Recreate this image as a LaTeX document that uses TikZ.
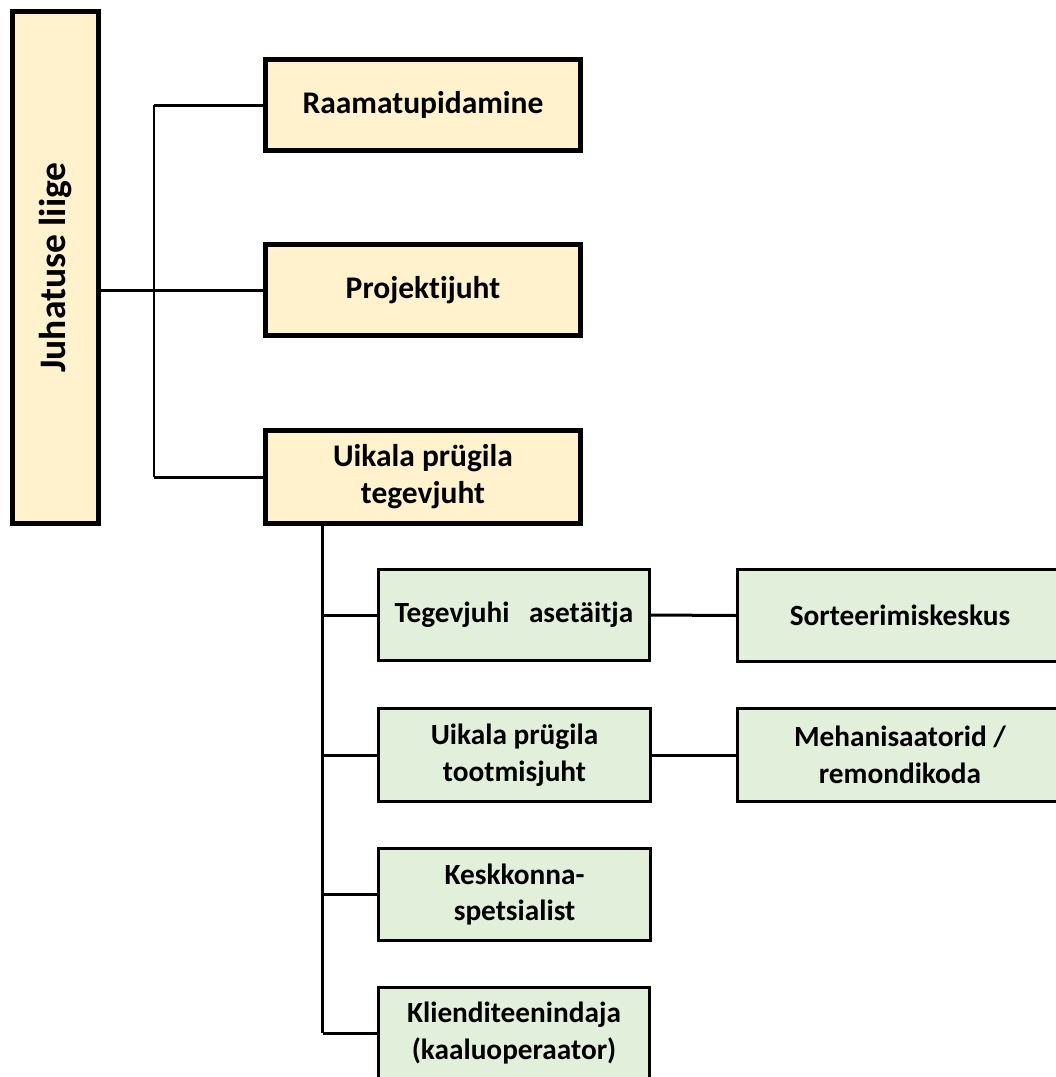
\documentclass[tikz,border=0pt]{standalone}
\usepackage{fontspec}
\setmainfont{Carlito}[Ligatures={NoCommon}]
\definecolor{boxyellow}{HTML}{FFF2CC}
\definecolor{boxgreen}{HTML}{E2EFDA}
\tikzset{
  topbox/.style={draw=black, line width=5bp, fill=boxyellow, rectangle,
    inner sep=0pt, align=center,
    font=\fontsize{31.5bp}{37bp}\selectfont\bfseries},
  greenbox/.style={draw=black, line width=3bp, fill=boxgreen, rectangle,
    inner sep=0pt, align=center,
    font=\fontsize{29.3bp}{36.7bp}\selectfont\bfseries},
  conn/.style={draw=black, line width=3bp},
  trunk/.style={draw=black, line width=2.5bp},
}
\begin{document}
\begin{tikzpicture}[x=1bp, y=-1bp]
\useasboundingbox (0,0) rectangle (1056,1077);
\clip (0,0) rectangle (1056,1077);
% top level
\node[draw=black, line width=5bp, fill=boxyellow, rectangle, inner sep=0pt,
      minimum width=86bp, minimum height=512bp] (J) at (55.5,267.5) {};
\node[rotate=90, font=\fontsize{37.5bp}{44bp}\selectfont\bfseries] (Jt) at (55.5,267.5) {Juhatuse liige};
\node[topbox, minimum width=315bp, minimum height=91bp] (R) at (423,105) {Raamatupidamine};
\node[topbox, minimum width=315bp, minimum height=91bp] (P) at (423,290) {Projektijuht};
\node[topbox, minimum width=315bp, minimum height=93bp] (U) at (423,477) {Uikala prügila\\tegevjuht};
% second level
\node[greenbox, minimum width=271bp, minimum height=91bp] (TA) at (514,615) {Tegevjuhi\hspace{19.5bp}asetäitja};
\node[greenbox, minimum width=272bp, minimum height=93bp] (TJ) at (514.5,755) {Uikala prügila\\tootmisjuht};
\node[greenbox, minimum width=272bp, minimum height=92bp] (K) at (514.5,894.5) {Keskkonna-\\spetsialist};
\node[greenbox, minimum width=271bp, minimum height=92bp] (KL) at (514,1033) {Klienditeenindaja\\(kaaluoperaator)};
\node[greenbox, minimum width=325bp, minimum height=92bp] (S) at (900,615.5) {Sorteerimiskeskus};
\node[greenbox, minimum width=325bp, minimum height=93bp] (M) at (900,755) {Mehanisaatorid /\\remondikoda};
% trunk coordinates
\coordinate (tx) at (154,0);
\coordinate (gx) at (322.5,0);
% top connectors
\draw[conn] (J.east |- P.west) -- (P.west);
\draw[trunk] (tx |- R.west) -- (tx |- U.west);
\draw[conn] (tx |- R.west) -- (R.west);
\draw[conn] (tx |- U.west) -- (U.west);
% green connectors
\draw[conn] (gx |- U.south) -- (gx |- KL.west);
\draw[conn] (gx |- TA.west) -- (TA.west);
\draw[conn] (gx |- TJ.west) -- (TJ.west);
\draw[conn] (gx |- K.west) -- (K.west);
\draw[conn] (gx |- KL.west) -- (KL.west);
\draw[conn] (TA.east) -- (S.west);
\draw[conn] (TJ.east) -- (M.west);
\end{tikzpicture}
\end{document}
